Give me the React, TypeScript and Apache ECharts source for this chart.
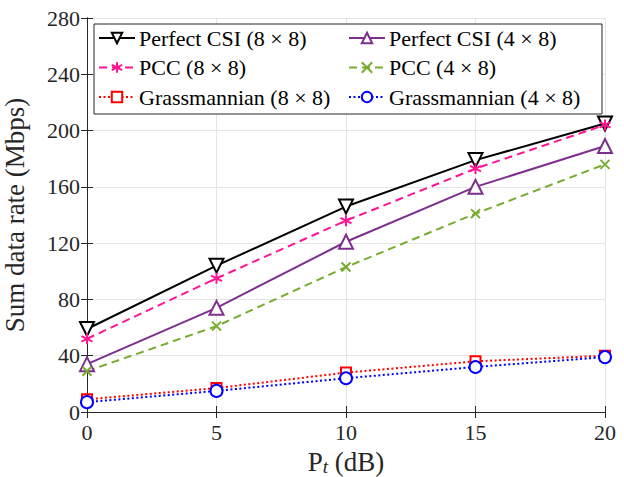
import React, { useEffect, useRef } from "react";
import * as echarts from "echarts";

const xValues = [0, 5, 10, 15, 20];
const perfect88 = [59, 104, 146, 179, 205];
const pcc88 = [52, 95, 136, 173, 204];
const perfect48 = [34, 74, 121, 160, 189];
const pcc48 = [29, 61, 103, 141, 176];
const grass88 = [9, 17, 28, 36, 40];
const grass48 = [7, 15, 24, 32, 39];
const yTicks = [0, 40, 80, 120, 160, 200, 240, 280];

const names = [
  "Perfect CSI (8 × 8)",
  "Perfect CSI (4 × 8)",
  "PCC (8 × 8)",
  "PCC (4 × 8)",
  "Grassmannian (8 × 8)",
  "Grassmannian (4 × 8)",
];

const FONT = "Liberation Serif";
const ASTERISK = "path://M0,-10L0,10M-8.66,-5L8.66,5M-8.66,5L8.66,-5";
const CROSS = "path://M-10,-10L10,10M-10,10L10,-10";

function pairs(ys: number[]) {
  return xValues.map((x, i) => [x, ys[i]]);
}

export default function App() {
  const ref = useRef<HTMLDivElement>(null);
  useEffect(() => {
    if (!ref.current) return;
    const chart = echarts.init(ref.current, undefined, { renderer: "svg" });
    const mk = (
      name: string,
      ys: number[],
      color: string,
      type: any,
      symbol: string,
      size: number,
      rotate = 0,
      fill: string = color
    ) => ({
      name,
      type: "line",
      data: pairs(ys),
      symbol,
      symbolSize: size,
      symbolRotate: rotate,
      showAllSymbol: true,
      lineStyle: { color, width: 2, type },
      itemStyle: { color: fill, borderColor: color, borderWidth: 2 },
      z: 3,
    });
    const legendCommon = {
      orient: "vertical",
      top: 27,
      padding: 0,
      itemWidth: 36,
      itemHeight: 13,
      itemGap: 7.5,
      z: 6,
      textStyle: { fontFamily: FONT, fontSize: 22, color: "#000", lineHeight: 22, padding: [0, 0, 0, -1] },
    };
    const axisText = { fontFamily: FONT, fontSize: 22, color: "#262626" };
    chart.setOption({
      animation: false,
      backgroundColor: "#fff",
      grid: { left: 87, right: 19, top: 18, bottom: 65, outerBoundsMode: "none", containLabel: false },
      xAxis: [
        {
          type: "value",
          min: 0,
          max: 20,
          interval: 5,
          name: "P{t|t} (dB)",
          nameLocation: "middle",
          nameGap: 33,
          nameTextStyle: {
            fontFamily: FONT,
            fontSize: 27,
            lineHeight: 28,
            color: "#262626",
            rich: { t: { fontFamily: FONT, fontSize: 19, lineHeight: 19, fontStyle: "italic", color: "#262626", padding: [9, 0, 0, 0] } },
          },
          axisLine: { lineStyle: { color: "#262626", width: 1 } },
          axisTick: { inside: true, length: 6, lineStyle: { color: "#262626" } },
          axisLabel: { ...axisText, margin: 9 },
          splitLine: { show: true, lineStyle: { color: "#e5e5e5", width: 1 } },
        },
        {
          type: "value",
          position: "top",
          min: 0,
          max: 20,
          interval: 5,
          axisLine: { show: true, lineStyle: { color: "#262626", width: 1 } },
          axisTick: { show: true, inside: true, length: 6, lineStyle: { color: "#262626" } },
          axisLabel: { show: false },
          splitLine: { show: false },
        },
      ],
      yAxis: [
        {
          type: "value",
          min: yTicks[0],
          max: yTicks[yTicks.length - 1],
          interval: 40,
          name: "Sum data rate (Mbps)",
          nameLocation: "middle",
          nameGap: 59,
          nameTextStyle: { fontFamily: FONT, fontSize: 27, color: "#262626" },
          axisLine: { show: true, lineStyle: { color: "#262626", width: 1 } },
          axisTick: { show: true, inside: true, length: 6, lineStyle: { color: "#262626" } },
          axisLabel: { ...axisText, margin: 7 },
          splitLine: { show: true, lineStyle: { color: "#e5e5e5", width: 1 } },
        },
        {
          type: "value",
          position: "right",
          min: yTicks[0],
          max: yTicks[yTicks.length - 1],
          interval: 40,
          axisLine: { show: true, lineStyle: { color: "#262626", width: 1 } },
          axisTick: { show: true, inside: true, length: 6, lineStyle: { color: "#262626" } },
          axisLabel: { show: false },
          splitLine: { show: false },
        },
      ],
      legend: [
        { ...legendCommon, left: 98, data: [names[0], names[2], names[4]] },
        { ...legendCommon, left: 348, data: [names[1], names[3], names[5]] },
      ],
      graphic: [
        {
          type: "rect",
          shape: { x: 94, y: 24, width: 508, height: 90 },
          style: { fill: "#fff", stroke: "#262626", lineWidth: 1 },
          z: 5,
        },
      ],
      series: [
        mk(names[0], perfect88, "#000000", "solid", "emptyTriangle", 14, 180),
        mk(names[1], perfect48, "#7e2f8e", "solid", "emptyTriangle", 14),
        mk(names[2], pcc88, "#ff1493", [8, 5], ASTERISK, 11, 0, "none"),
        mk(names[3], pcc48, "#77ac30", [8, 5], CROSS, 9, 0, "none"),
        mk(names[4], grass88, "#ff0000", [2, 2.5], "emptyRect", 10),
        mk(names[5], grass48, "#0000ff", [2, 2.5], "emptyCircle", 12),
      ],
    });
    return () => chart.dispose();
  }, []);
  return <div ref={ref} style={{ position: "fixed", left: 0, top: 0, width: 624, height: 477 }} />;
}
